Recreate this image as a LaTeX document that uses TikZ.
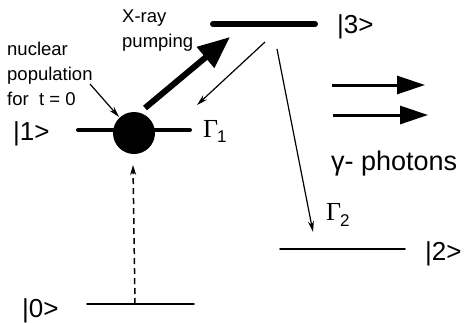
\documentclass[tikz,border=0pt]{standalone}
\usepackage{fontspec}
\setmainfont{Liberation Sans}
\newfontfamily\serifg{Liberation Serif}
\usetikzlibrary{arrows.meta}
\tikzset{
  lvl/.style={line width=#1, line cap=round},
  ket/.style={anchor=base west, inner sep=0pt, font=\fontsize{26}{26}\selectfont},
  small/.style={anchor=base west, inner sep=0pt, font=\fontsize{18.5}{25}\selectfont, align=left},
  gam/.style={anchor=base west, inner sep=0pt, font=\fontsize{26}{26}\selectfont},
  thin/.style={line width=1.2pt, -{Stealth[length=11pt,width=6pt]}},
  photon/.style={line width=3pt, -{Triangle[length=28pt,width=18pt]}},
}
\begin{document}
\begin{tikzpicture}[x=1pt,y=-1pt]
\useasboundingbox (0,0) rectangle (466,322);
% levels
\coordinate (l3a) at (213,24); \coordinate (l3b) at (315,24);
\coordinate (l1a) at (78,130); \coordinate (l1b) at (190,130);
\coordinate (l2a) at (280,249); \coordinate (l2b) at (405,249);
\coordinate (l0a) at (87,304); \coordinate (l0b) at (194,304);
\draw[lvl=6pt] (l3a) -- (l3b);
\draw[lvl=4pt] (l1a) -- (l1b);
\draw[lvl=1.6pt] (l2a) -- (l2b);
\draw[lvl=1.6pt] (l0a) -- (l0b);
% population
\node (pop) [circle, fill=black, minimum size=42pt, inner sep=0pt] at (134,133) {};
% labels
\node (k3) [ket] at (337,33) {|3>};
\node (k1) [ket] at (13,140) {|1>};
\node (k2) [ket] at (425,260) {|2>};
\node (k0) [ket] at (22,317) {|0>};
\node (g1) [gam] at (203,137) {{\serifg Γ}\kern-1pt\raisebox{-5pt}{\fontsize{17}{17}\selectfont 1}};
\node (g2) [gam] at (326,220) {{\serifg Γ}\kern-1pt\raisebox{-6pt}{\fontsize{17}{17}\selectfont 2}};
\node (xr) [small] at (122,47) {X-ray\\pumping};
\node (np) [small] at (7,105) {nuclear\\population\\for\ \ t = 0};
\node (ph) [anchor=base west, inner sep=0pt, font=\fontsize{27}{27}\selectfont] at (331,170) {γ- photons};
% arrows
\coordinate (xs) at (145,108); \coordinate (xe) at (230,37);
\draw[line width=6pt, -{Triangle[length=32pt,width=26pt]}] (xs) -- (xe);
\coordinate (d1s) at (265,42); \coordinate (d1e) at (197,105);
\draw[thin] (d1s) -- (d1e);
\coordinate (d2s) at (277,49); \coordinate (d2e) at (313,232);
\draw[thin] (d2s) -- (d2e);
\coordinate (ds) at (135,304); \coordinate (de) at (133,165);
\draw[line width=1.5pt, dash pattern=on 6pt off 4pt, -{Stealth[length=10pt,width=6pt]}] (ds) -- (de);
\coordinate (ps) at (90,84); \coordinate (pe) at (119,117);
\draw[thin] (ps) -- (pe);
\coordinate (p1s) at (332,85); \coordinate (p1e) at (425,85);
\coordinate (p2s) at (333,115); \coordinate (p2e) at (428,115);
\draw[photon] (p1s) -- (p1e);
\draw[photon] (p2s) -- (p2e);
\end{tikzpicture}
\end{document}
